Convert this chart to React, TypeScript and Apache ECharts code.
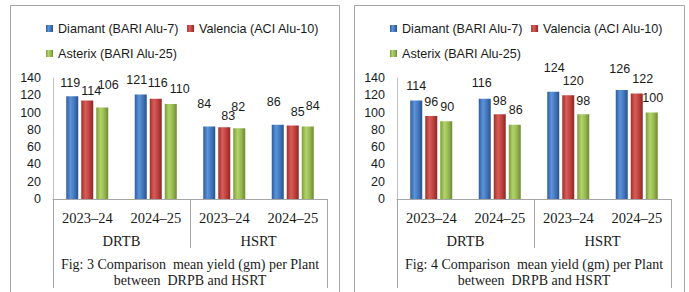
import React, { useEffect, useRef } from 'react';
import * as echarts from 'echarts';

const years = ['2023–24', '2024–25', '2023–24', '2024–25'];
const groups = ['DRTB', 'HSRT'];
const seriesNames = ['Diamant (BARI Alu-7)', 'Valencia (ACI Alu-10)', 'Asterix (BARI Alu-25)'];

const fig3Diamant = [119, 121, 84, 86];
const fig3Valencia = [114, 116, 83, 85];
const fig3Asterix = [106, 110, 82, 84];

const fig4Diamant = [114, 116, 124, 126];
const fig4Valencia = [96, 98, 120, 122];
const fig4Asterix = [90, 86, 98, 100];

const yMin = 0;
const yMax = 140;
const yStep = 20;

const caption3 = 'Fig: 3 Comparison  mean yield (gm) per Plant\nbetween  DRPB and HSRT';
const caption4 = 'Fig: 4 Comparison  mean yield (gm) per Plant\nbetween  DRPB and HSRT';

// label nudges (style only): [dx, dy] per bar
const nudge3 = [
  [[-2, 1], [-4, 0], [-5, -8], [-4, -8]],
  [[4, 5], [2, -1], [4, 3], [5, 1]],
  [[6, -8], [9, 0], [-1, -7], [5, -6]],
];
const nudge4 = [
  [[0, 0], [-3, -1], [1, -9], [-2, -7]],
  [[0, 0], [0, 1], [5, 0], [6, 0]],
  [[1, 0], [1, 0], [0, 1], [1, 0]],
];

const SANS = 'Liberation Sans';
const SERIF = 'Liberation Serif';
const LINE = '#a6a6a6';
const TEXT = '#1a1a1a';

const grad = (c: string[]) =>
  new echarts.graphic.LinearGradient(0, 0, 1, 0, [
    { offset: 0, color: c[0] },
    { offset: 0.35, color: c[1] },
    { offset: 0.65, color: c[2] },
    { offset: 1, color: c[3] },
  ]);

const colors = [
  ['#2d5c9c', '#5d93d9', '#4479c0', '#29518a'],
  ['#9e2f2c', '#d85c58', '#c0433f', '#8a2826'],
  ['#7c9c3a', '#b3d36a', '#9aba55', '#6d8a31'],
];

export default function App() {
  const ref = useRef<HTMLDivElement>(null);
  useEffect(() => {
    if (!ref.current) return;
    const chart = echarts.init(ref.current, null, { renderer: 'svg' });

    const panels = [
      { left: 53, right: 362, legendLeft: 46, data: [fig3Diamant, fig3Valencia, fig3Asterix], nudge: nudge3, caption: caption3 },
      { left: 397, right: 18, legendLeft: 390, data: [fig4Diamant, fig4Valencia, fig4Asterix], nudge: nudge4, caption: caption4 },
    ];

    const grid: any[] = [];
    const xAxis: any[] = [];
    const yAxis: any[] = [];
    const series: any[] = [];
    const legend: any[] = [];

    panels.forEach((p, pi) => {
      grid.push({ left: p.left, right: p.right, top: 78, bottom: 93 });
      const base = xAxis.length;
      xAxis.push({
        type: 'category',
        gridIndex: pi,
        position: 'bottom',
        data: years,
        axisLine: { show: true, lineStyle: { color: LINE, width: 1 } },
        axisTick: { show: false },
        axisLabel: { interval: 0, fontFamily: SERIF, fontSize: 14.5, color: TEXT, margin: 11 },
      });
      xAxis.push({
        type: 'category',
        gridIndex: pi,
        position: 'bottom',
        data: groups,
        axisLine: { show: false },
        axisTick: { show: true, interval: 0, length: 49, lineStyle: { color: LINE } },
        axisLabel: { interval: 0, fontFamily: SERIF, fontSize: 14.5, color: TEXT, margin: 34 },
      });
      xAxis.push({
        type: 'category',
        gridIndex: pi,
        position: 'bottom',
        data: [p.caption],
        axisLine: { show: false },
        axisTick: { show: true, interval: 0, length: 89, lineStyle: { color: LINE } },
        axisLabel: { interval: 0, fontFamily: SERIF, fontSize: 14, lineHeight: 16, color: TEXT, margin: 57, align: 'center' },
      });
      yAxis.push({
        type: 'value',
        gridIndex: pi,
        min: yMin,
        max: yMax,
        interval: yStep,
        axisLine: { show: true, lineStyle: { color: '#bfbfbf' } },
        axisTick: { show: false },
        splitLine: { show: false },
        axisLabel: { fontFamily: SANS, fontSize: 12.5, color: TEXT, margin: 12 },
      });
      p.data.forEach((vals, si) => {
        series.push({
          type: 'bar',
          name: seriesNames[si],
          xAxisIndex: base,
          yAxisIndex: pi,
          barWidth: 12,
          barGap: '25%',
          itemStyle: { color: grad(colors[si]) },
          label: {
            show: true,
            position: 'top',
            distance: 8,
            fontFamily: SANS,
            fontSize: 12.5,
            color: TEXT,
          },
          data: vals.map((v, i) => ({ value: v, label: { offset: p.nudge[si][i] } })),
        });
      });
      legend.push({
        left: p.legendLeft,
        top: 20,
        padding: 0,
        orient: 'horizontal',
        itemWidth: 7,
        itemHeight: 7,
        itemGap: 8,
        icon: 'rect',
        textStyle: { fontFamily: SANS, fontSize: 12.6, color: TEXT, lineHeight: 17 },
        data: [seriesNames[0], seriesNames[1], '\n', seriesNames[2]],
        selectedMode: false,
      });
    });

    chart.setOption({
      animation: false,
      backgroundColor: '#ffffff',
      grid,
      xAxis,
      yAxis,
      series,
      legend,
      graphic: [
        { type: 'rect', shape: { x: 10.5, y: 5.5, width: 329, height: 300 }, style: { fill: 'none', stroke: LINE, lineWidth: 1 }, silent: true },
        { type: 'rect', shape: { x: 354.5, y: 5.5, width: 330, height: 300 }, style: { fill: 'none', stroke: LINE, lineWidth: 1 }, silent: true },
      ],
    });
    return () => chart.dispose();
  }, []);
  return <div ref={ref} style={{ position: 'absolute', left: 0, top: 0, width: 689, height: 292 }} />;
}
